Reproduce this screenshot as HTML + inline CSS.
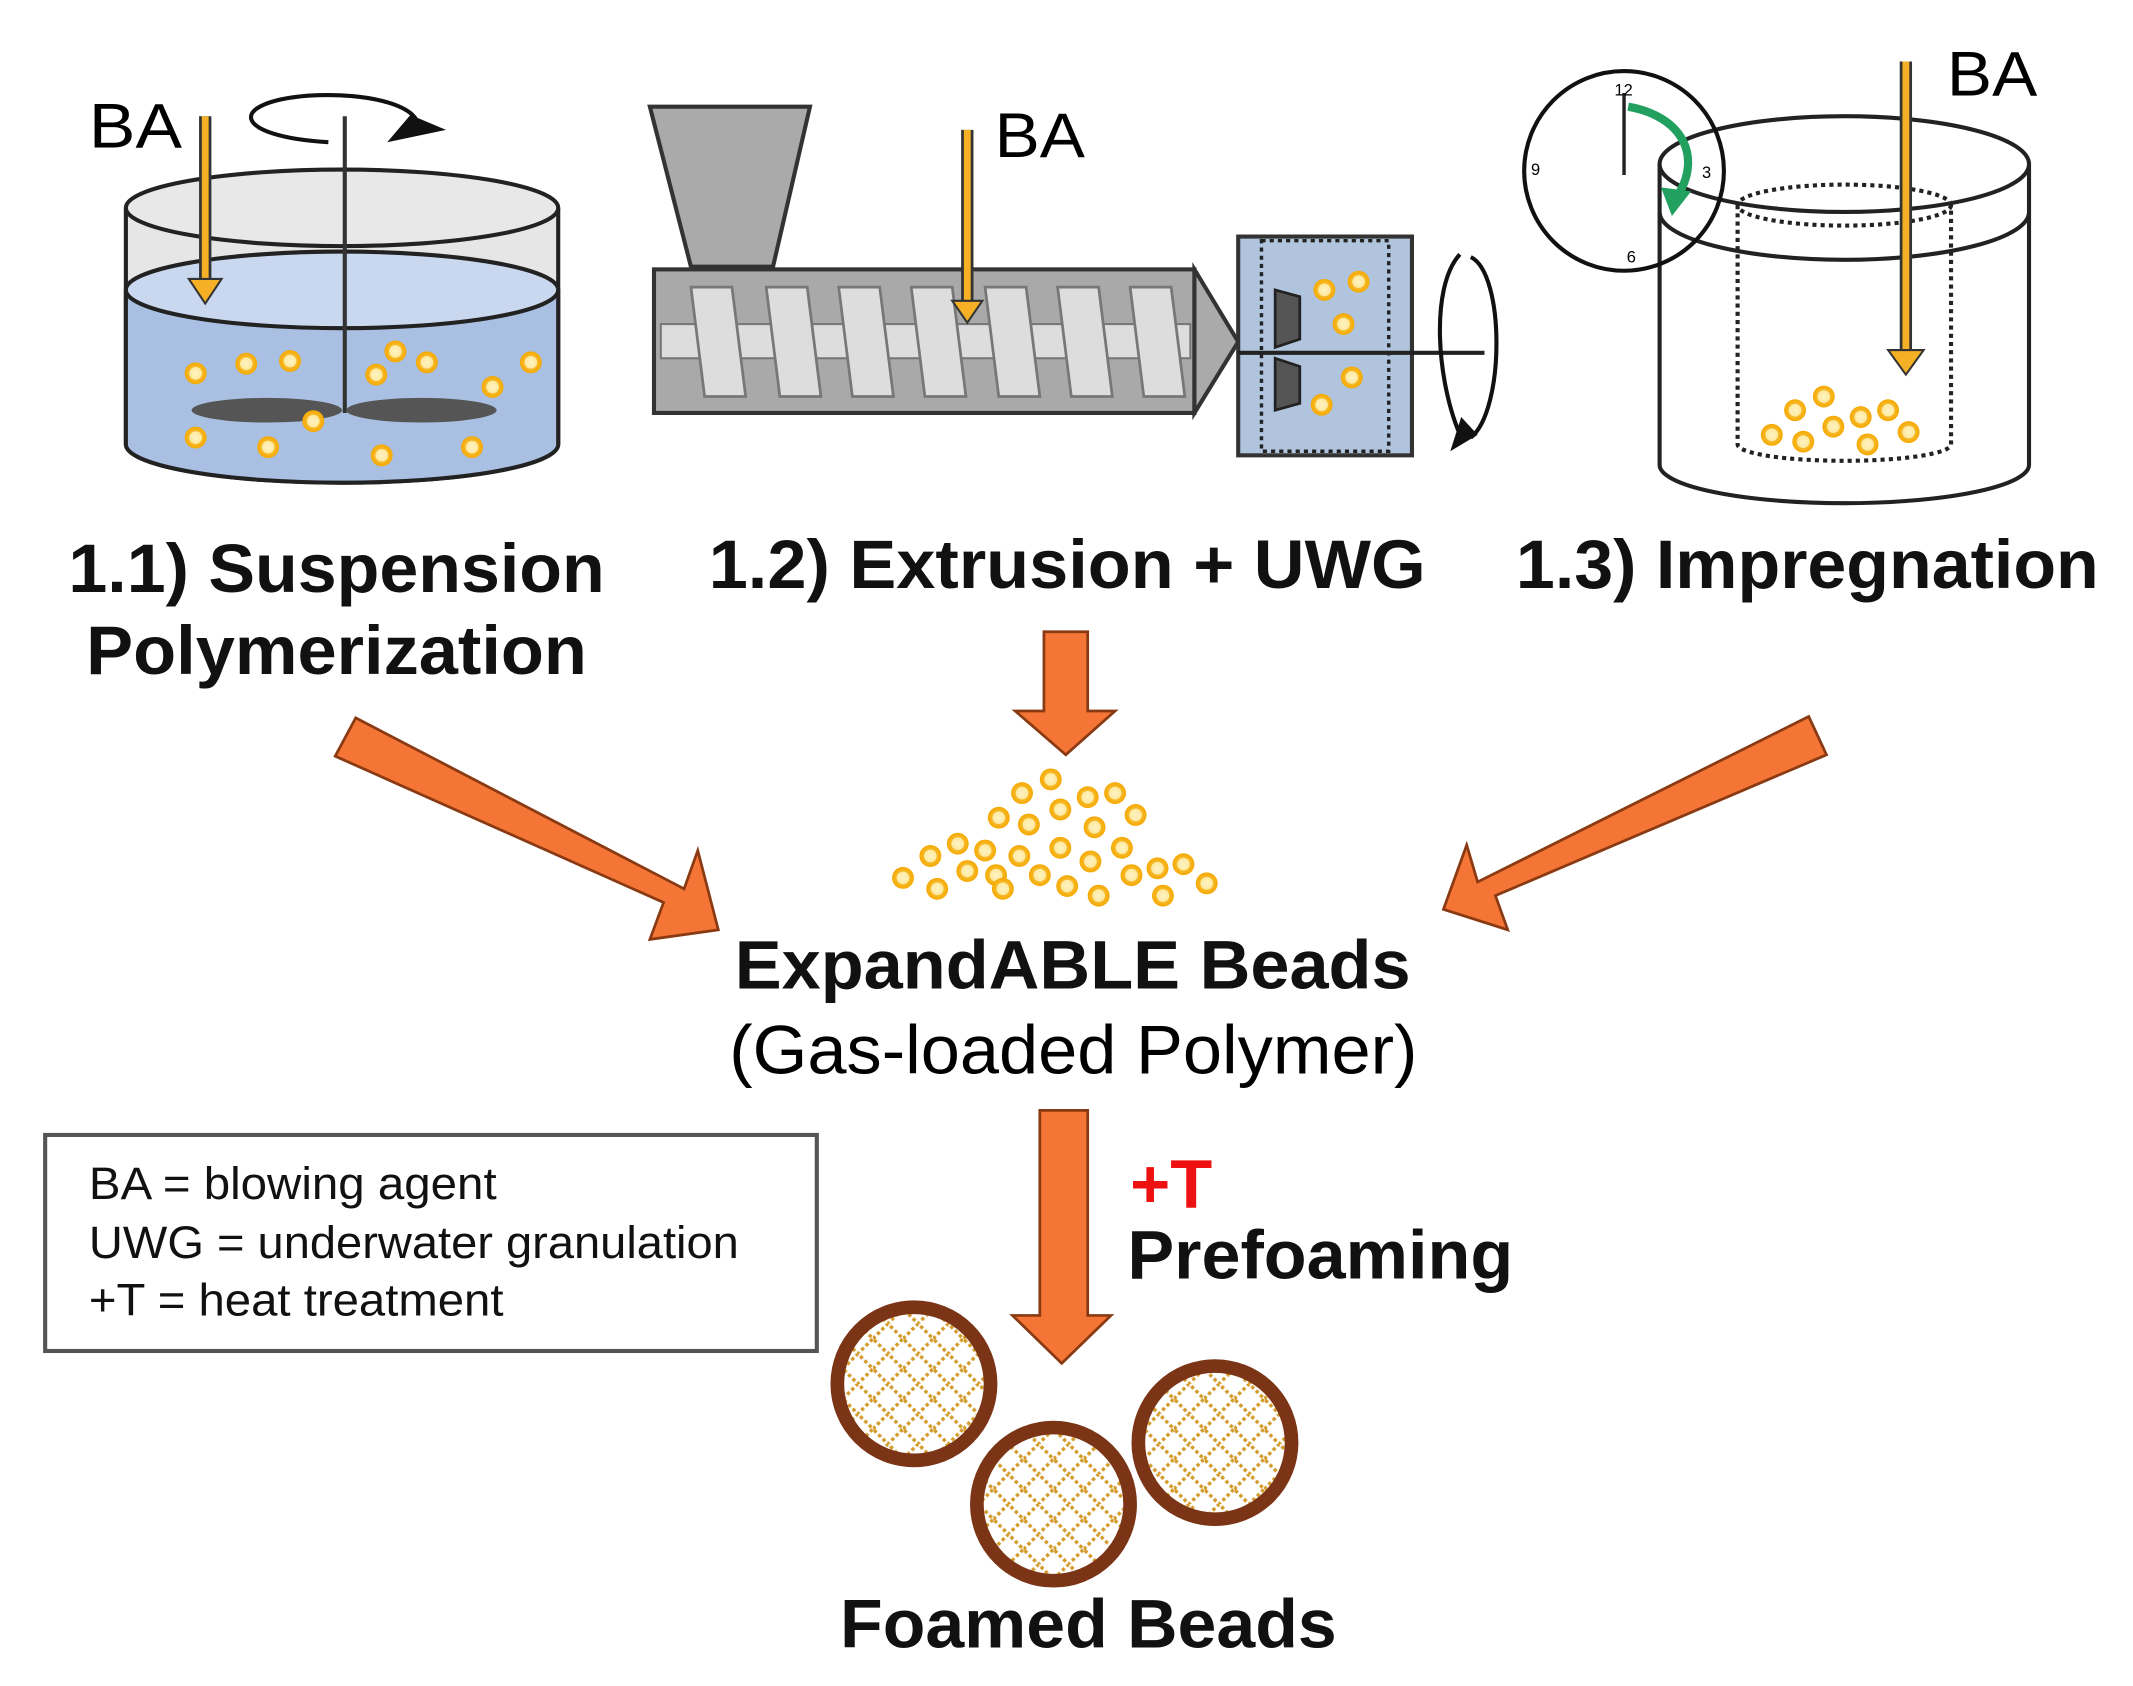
<!DOCTYPE html>
<html><head><meta charset="utf-8"><style>html,body{margin:0;padding:0;background:#fff}svg{display:block}</style></head>
<body>
<svg width="2133" height="1686" viewBox="0 0 1559 1233" preserveAspectRatio="none" xmlns="http://www.w3.org/2000/svg" font-family="Liberation Sans, Arial, sans-serif">
<defs>
<radialGradient id="bd" cx="50%" cy="50%" r="50%"><stop offset="0" stop-color="#fff3c4"/><stop offset="0.55" stop-color="#fde9a0"/><stop offset="0.6" stop-color="#f7b928"/><stop offset="1" stop-color="#f5a800"/></radialGradient>
<pattern id="hatch" width="22" height="22" patternUnits="userSpaceOnUse">
<path d="M0 11 L11 0 L22 11 L11 22 Z" fill="none" stroke="#d39b2a" stroke-width="2.5" stroke-dasharray="2.5 2"/>
</pattern>
<g id="b"><circle r="8" fill="url(#bd)"/></g>
</defs>

<!-- Tank 1 -->
<path d="M92 152 V325 A158 28 0 0 0 408 325 V152" fill="#e6e6e6" stroke="#222" stroke-width="3"/>
<path d="M92 212 V325 A158 28 0 0 0 408 325 V212 Z" fill="#a9c0e2"/>
<ellipse cx="250" cy="212" rx="158" ry="28" fill="#c9d8ee" stroke="#222" stroke-width="3"/>
<path d="M92 212 V325 A158 28 0 0 0 408 325 V212" fill="none" stroke="#222" stroke-width="3"/>
<ellipse cx="250" cy="152" rx="158" ry="28" fill="#e8e8e8" stroke="#222" stroke-width="3"/>
<line x1="252" y1="85" x2="252" y2="302" stroke="#333" stroke-width="3"/>
<ellipse cx="195" cy="300" rx="55" ry="9" fill="#555"/>
<ellipse cx="308" cy="300" rx="55" ry="9" fill="#555"/>
<path d="M240 104 C170 100 165 75 225 70 C270 67 310 78 305 95" fill="none" stroke="#111" stroke-width="3"/>
<path d="M283 104 L326 95 L300 84 Z" fill="#111"/>
<text x="65" y="108" font-size="46" textLength="68" lengthAdjust="spacingAndGlyphs">BA</text>
<line x1="150" y1="85" x2="150" y2="208" stroke="#333" stroke-width="9"/><line x1="150" y1="85" x2="150" y2="208" stroke="#f5b025" stroke-width="5"/>
<path d="M138 204 L150 222 L162 204 Z" fill="#f5b025" stroke="#333" stroke-width="1.5"/>
<g><use href="#b" x="143" y="273"/><use href="#b" x="180" y="266"/><use href="#b" x="212" y="264"/><use href="#b" x="275" y="274"/><use href="#b" x="289" y="257"/><use href="#b" x="312" y="265"/><use href="#b" x="360" y="283"/><use href="#b" x="388" y="265"/><use href="#b" x="229" y="308"/><use href="#b" x="143" y="320"/><use href="#b" x="196" y="327"/><use href="#b" x="279" y="333"/><use href="#b" x="345" y="327"/></g>

<!-- Extruder -->
<path d="M475 78 H592 L565 195 H505 Z" fill="#aaa" stroke="#333" stroke-width="3"/>
<rect x="478" y="197" width="395" height="105" fill="#a9a9a9" stroke="#333" stroke-width="3"/>
<rect x="483" y="237" width="387" height="25" fill="#ddd" stroke="#777" stroke-width="1.5"/>
<g fill="#ddd" stroke="#777" stroke-width="2">
<path d="M505 210 H535 L545 290 H515 Z"/><path d="M560 210 H590 L600 290 H570 Z"/><path d="M613 210 H643 L653 290 H623 Z"/><path d="M666 210 H696 L706 290 H676 Z"/><path d="M720 210 H750 L760 290 H730 Z"/><path d="M773 210 H803 L813 290 H783 Z"/><path d="M826 210 H856 L866 290 H836 Z"/>
</g>
<path d="M873 197 L905 250 L873 302 Z" fill="#aaa" stroke="#333" stroke-width="3"/>
<rect x="905" y="173" width="127" height="160" fill="#b0c4de" stroke="#333" stroke-width="3"/>
<rect x="922" y="176" width="93" height="154" fill="none" stroke="#222" stroke-width="2.5" stroke-dasharray="3 3"/>
<path d="M932 212 L950 217 V248 L932 254 Z" fill="#555" stroke="#222" stroke-width="2"/>
<path d="M932 262 L950 268 V295 L932 300 Z" fill="#555" stroke="#222" stroke-width="2"/>
<line x1="905" y1="258" x2="1085" y2="258" stroke="#222" stroke-width="3"/>
<path d="M1075 188 C1100 200 1100 300 1075 320" fill="none" stroke="#111" stroke-width="3"/>
<path d="M1067 186 C1045 210 1050 280 1068 320" fill="none" stroke="#111" stroke-width="3"/>
<path d="M1060 330 L1068 305 L1080 318 Z" fill="#111"/>
<g><use href="#b" x="968" y="212"/><use href="#b" x="993" y="206"/><use href="#b" x="982" y="237"/><use href="#b" x="988" y="276"/><use href="#b" x="966" y="296"/></g>
<text x="727" y="115" font-size="46" textLength="66" lengthAdjust="spacingAndGlyphs">BA</text>
<line x1="707" y1="95" x2="707" y2="222" stroke="#333" stroke-width="9"/><line x1="707" y1="95" x2="707" y2="222" stroke="#f5b025" stroke-width="5"/>
<path d="M696 220 L707 236 L718 220 Z" fill="#f5b025" stroke="#333" stroke-width="1.5"/>

<!-- Tank 3 -->
<path d="M1213 120 V340 A135 28 0 0 0 1483 340 V120" fill="#fff" stroke="#222" stroke-width="3"/>
<ellipse cx="1348" cy="120" rx="135" ry="35" fill="#fff" stroke="#222" stroke-width="3"/>
<path d="M1213 155 A135 35 0 0 0 1483 155" fill="none" stroke="#222" stroke-width="3"/>
<ellipse cx="1348" cy="150" rx="78" ry="15" fill="none" stroke="#222" stroke-width="3" stroke-dasharray="3 3"/>
<path d="M1270 150 V325 A78 12 0 0 0 1426 325 V150" fill="none" stroke="#222" stroke-width="3" stroke-dasharray="3 3"/>
<circle cx="1187" cy="125" r="73" fill="none" stroke="#111" stroke-width="3"/>
<line x1="1187" y1="68" x2="1187" y2="128" stroke="#222" stroke-width="2.5"/>
<text x="1180" y="70" font-size="12">12</text><text x="1244" y="130" font-size="12">3</text><text x="1189" y="192" font-size="12">6</text><text x="1119" y="128" font-size="12">9</text>
<path d="M1190 78 C1230 85 1245 115 1225 145" fill="none" stroke="#22a060" stroke-width="6"/>
<path d="M1214 137 L1222 158 L1236 140 Z" fill="#22a060"/>
<text x="1423" y="70" font-size="46" textLength="66" lengthAdjust="spacingAndGlyphs">BA</text>
<line x1="1393" y1="45" x2="1393" y2="258" stroke="#333" stroke-width="9"/><line x1="1393" y1="45" x2="1393" y2="258" stroke="#f5b025" stroke-width="5"/>
<path d="M1380 256 L1393 274 L1406 256 Z" fill="#f5b025" stroke="#333" stroke-width="1.5"/>
<g><use href="#b" x="1312" y="300"/><use href="#b" x="1333" y="290"/><use href="#b" x="1360" y="305"/><use href="#b" x="1380" y="300"/><use href="#b" x="1295" y="318"/><use href="#b" x="1318" y="323"/><use href="#b" x="1340" y="312"/><use href="#b" x="1365" y="325"/><use href="#b" x="1395" y="316"/></g>

<!-- labels -->
<g font-weight="bold" font-size="50" fill="#111" lengthAdjust="spacingAndGlyphs">
<text x="50" y="433" textLength="392" lengthAdjust="spacingAndGlyphs">1.1) Suspension</text>
<text x="63" y="493" textLength="366" lengthAdjust="spacingAndGlyphs">Polymerization</text>
<text x="518" y="430" textLength="524" lengthAdjust="spacingAndGlyphs">1.2) Extrusion + UWG</text>
<text x="1108" y="430" textLength="426" lengthAdjust="spacingAndGlyphs">1.3) Impregnation</text>
<text x="537" y="723" textLength="494" lengthAdjust="spacingAndGlyphs">ExpandABLE Beads</text>
<text x="824" y="935" textLength="282" lengthAdjust="spacingAndGlyphs">Prefoaming</text>
<text x="614" y="1205" textLength="363" lengthAdjust="spacingAndGlyphs">Foamed Beads</text>
<text x="826" y="883" fill="#ee1111" textLength="60" lengthAdjust="spacingAndGlyphs">+T</text>
</g>
<text x="533" y="785" font-size="50" textLength="503" lengthAdjust="spacingAndGlyphs">(Gas-loaded Polymer)</text>

<!-- arrows -->
<g fill="#f47535" stroke="#8a3a12" stroke-width="2">
<path d="M763 462 H795 V520 H815 L779 552 L742 520 H763 Z"/>
<path d="M760 812 H795 V962 H812 L776 997 L740 962 H760 Z"/>
<path d="M245 553 L260 525 L500 650 L510 622 L525 680 L475 687 L485 660 Z"/>
<path d="M1335 552 L1322 524 L1080 645 L1072 618 L1055 665 L1102 680 L1093 655 Z"/>
</g>

<!-- bead pile -->
<g>
<use href="#b" x="768" y="570"/><use href="#b" x="747" y="580"/><use href="#b" x="795" y="583"/><use href="#b" x="815" y="580"/><use href="#b" x="775" y="592"/><use href="#b" x="730" y="598"/><use href="#b" x="752" y="603"/><use href="#b" x="800" y="605"/><use href="#b" x="830" y="596"/><use href="#b" x="700" y="617"/><use href="#b" x="720" y="622"/><use href="#b" x="680" y="626"/><use href="#b" x="745" y="626"/><use href="#b" x="775" y="620"/><use href="#b" x="820" y="620"/><use href="#b" x="797" y="630"/><use href="#b" x="660" y="642"/><use href="#b" x="685" y="650"/><use href="#b" x="707" y="637"/><use href="#b" x="728" y="640"/><use href="#b" x="760" y="640"/><use href="#b" x="780" y="648"/><use href="#b" x="803" y="655"/><use href="#b" x="827" y="640"/><use href="#b" x="846" y="635"/><use href="#b" x="865" y="632"/><use href="#b" x="850" y="655"/><use href="#b" x="882" y="646"/><use href="#b" x="733" y="650"/>
</g>

<!-- legend -->
<rect x="33" y="830" width="564" height="158" fill="#fff" stroke="#555" stroke-width="3"/>
<g font-size="33" fill="#111">
<text x="65" y="877" textLength="298" lengthAdjust="spacingAndGlyphs">BA = blowing agent</text>
<text x="65" y="920" textLength="475" lengthAdjust="spacingAndGlyphs">UWG = underwater granulation</text>
<text x="65" y="962" textLength="303" lengthAdjust="spacingAndGlyphs">+T = heat treatment</text>
</g>

<!-- foamed beads -->
<g stroke="#7b3516" stroke-width="10" fill="url(#hatch)">
<circle cx="668" cy="1012" r="56"/>
<circle cx="888" cy="1055" r="56"/>
<circle cx="770" cy="1100" r="56"/>
</g>
</svg>
</body></html>
